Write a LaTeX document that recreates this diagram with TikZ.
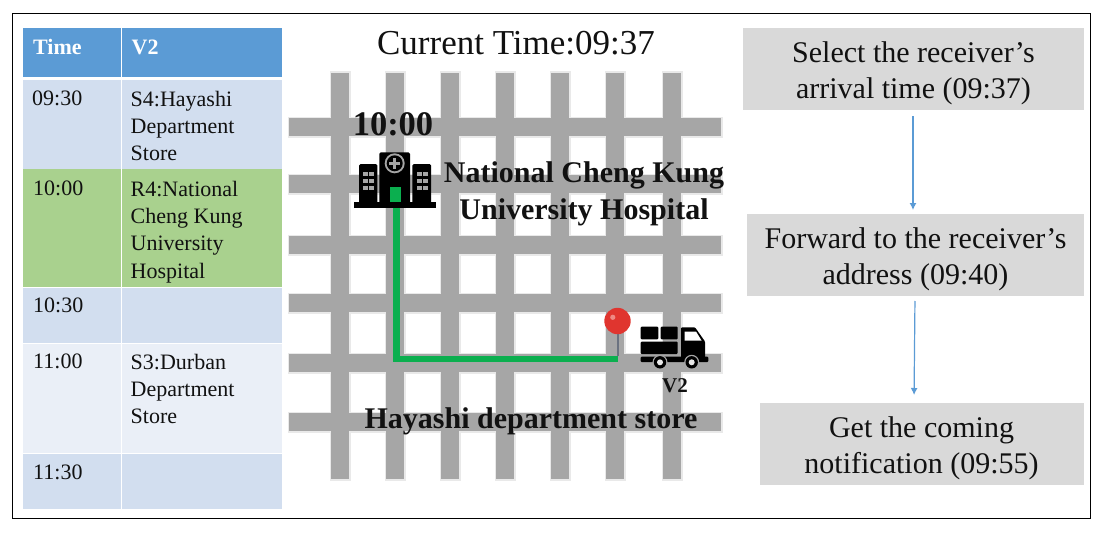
\documentclass[tikz,border=0pt]{standalone}
\usepackage{fontspec}
\setmainfont{Liberation Serif}
\usetikzlibrary{arrows.meta}
\definecolor{hdr}{HTML}{5B9BD5}
\definecolor{rowa}{HTML}{D2DEEF}
\definecolor{rowb}{HTML}{EAEFF7}
\definecolor{rowg}{HTML}{A9D18E}
\definecolor{road}{HTML}{A6A6A6}
\definecolor{halo}{HTML}{E9E9E9}
\definecolor{route}{HTML}{0BAF4F}
\definecolor{stepfill}{HTML}{D9D9D9}
\definecolor{pinred}{HTML}{E0352F}
\definecolor{pinhi}{HTML}{EE8A85}
\definecolor{stem}{HTML}{6B7280}
\definecolor{flow}{HTML}{5B9BD5}
\definecolor{ink}{HTML}{111111}
\tikzset{
  cell/.style={anchor=north west,inner sep=0pt,outer sep=0pt,draw=none},
  celltxt/.style={anchor=north west,inner sep=0pt,align=left,text=ink,font=\fontsize{22}{27.2}\selectfont},
  headtxt/.style={anchor=west,inner sep=0pt,text=white,font=\fontsize{22}{27}\selectfont\bfseries},
  stepbox/.style={fill=stepfill,inner sep=0pt,outer sep=0pt},
  steptxt/.style={inner sep=0pt,align=center,text=ink,font=\fontsize{30}{36}\selectfont},
  maplabel/.style={inner sep=0pt,text=ink,align=center,font=\fontsize{30}{37}\selectfont\bfseries},
  flowarrow/.style={draw=flow,line width=1.2pt,-{Latex[length=7pt,width=7pt]}},
}
\begin{document}
\begin{tikzpicture}[x=1pt,y=-1pt]
\useasboundingbox (0,0) rectangle (1109,535);
\fill[white] (0,0) rectangle (1109,535);
% table
\node[cell,fill=hdr,minimum width=97.5pt,minimum height=49pt] (c00) at (23,28) {};
\node[cell,fill=hdr,minimum width=160pt,minimum height=49pt] (c01) at (122,28) {};
\node[cell,fill=rowa,minimum width=97.5pt,minimum height=88pt] (c10) at (23,80.5) {};
\node[cell,fill=rowa,minimum width=160pt,minimum height=88pt] (c11) at (122,80.5) {};
\node[cell,fill=rowg,minimum width=97.5pt,minimum height=117.5pt] (c20) at (23,169) {};
\node[cell,fill=rowg,minimum width=160pt,minimum height=117.5pt] (c21) at (122,169) {};
\node[cell,fill=rowa,minimum width=97.5pt,minimum height=55pt] (c30) at (23,287.5) {};
\node[cell,fill=rowa,minimum width=160pt,minimum height=55pt] (c31) at (122,287.5) {};
\node[cell,fill=rowb,minimum width=97.5pt,minimum height=109pt] (c40) at (23,343.5) {};
\node[cell,fill=rowb,minimum width=160pt,minimum height=109pt] (c41) at (122,343.5) {};
\node[cell,fill=rowa,minimum width=97.5pt,minimum height=54.5pt] (c50) at (23,454) {};
\node[cell,fill=rowa,minimum width=160pt,minimum height=54.5pt] (c51) at (122,454) {};
\node[headtxt] (h0) at (33,47) {Time};
\node[headtxt] (h1) at (131.5,47) {V2};
\node[celltxt] (t10) at (32,91) {09:30};
\node[celltxt] (t11) at (130.5,91) {S4:Hayashi\\Department\\Store};
\node[celltxt] (t20) at (33,181) {10:00};
\node[celltxt] (t21) at (130.5,181) {R4:National\\Cheng Kung\\University\\Hospital};
\node[celltxt] (t30) at (33,298) {10:30};
\node[celltxt] (t40) at (33,354) {11:00};
\node[celltxt] (t41) at (130.5,354) {S3:Durban\\Department\\Store};
\node[celltxt] (t50) at (33,465) {11:30};
% road grid
\foreach \yy in {127,184,245,303,363,422} \fill[halo] (287.5,\yy-10.5) rectangle (722.5,\yy+10.5);
\foreach \xx in {340,395,450,505,560,615,672} \fill[halo] (\xx-10.5,71) rectangle (\xx+10.5,480.5);
\foreach \yy in {127,184,245,303,363,422} \fill[road] (289,\yy-9) rectangle (721,\yy+9);
\foreach \xx in {340,395,450,505,560,615,672} \fill[road] (\xx-9,73) rectangle (\xx+9,479);
% route
\draw[route,line width=6.5pt,line join=miter] (396.5,187) -- (396.5,359) -- (618,359);
% hospital
\fill[black] (354,202.3) rectangle (435.7,207.7);
\fill[black,rounded corners=1.5pt] (359,164) rectangle (377.3,204);
\fill[black,rounded corners=1.5pt] (412.3,164) rectangle (431,204);
\fill[black,rounded corners=1.5pt] (379.3,152.3) rectangle (410,204);
\fill[road] (394.7,163.3) circle[radius=10];
\fill[black] (394.7,163.3) circle[radius=8];
\fill[road] (393.2,157.8) rectangle (396.2,168.8);
\fill[road] (389.2,161.8) rectangle (400.2,164.8);
\fill[route] (390,187) rectangle (401,202.3);
\foreach \wy in {171.7,178.7,185.9} {
  \fill[road] (363.3,\wy) rectangle (367.5,\wy+4);
  \fill[road] (369.2,\wy) rectangle (373.6,\wy+4);
  \fill[road] (417.3,\wy) rectangle (421.7,\wy+4);
  \fill[road] (423.2,\wy) rectangle (427.7,\wy+4);
}
% pin
\draw[stem,line width=1.5pt] (617.8,334) -- (617.8,356);
\fill[pinred] (617.5,321) circle[radius=13.2];
\fill[pinhi] (612.8,317.3) circle[radius=2.6];
% truck
\fill[black,rounded corners=1pt] (640.7,326.7) rectangle (658.3,339.3);
\fill[black,rounded corners=1pt] (660.7,326.7) rectangle (677.7,339.3);
\fill[black,rounded corners=1pt] (640.7,341.7) rectangle (677.7,354);
\fill[black,rounded corners=1pt] (640.7,356.7) rectangle (708.3,362);
\fill[black,rounded corners=1pt] (681,327.3) -- (695,327.3) -- (705,341.5) -- (705,358) -- (681,358) -- cycle;
\fill[white] (684.5,331.5) -- (696,331.5) -- (701.5,340.5) -- (684.5,340.5) -- cycle;
\foreach \wx in {660,691.7} {
  \fill[road] (\wx,362.3) circle[radius=7.5];
  \fill[black] (\wx,362.3) circle[radius=6.2];
  \fill[white!75!road] (\wx,362.3) circle[radius=3];
}
% labels
\node[inner sep=0pt,text=ink,font=\fontsize{35}{40}\selectfont] (clock) at (516,43) {Current Time:09:37};
\node[maplabel,font=\fontsize{34.5}{40}\selectfont\bfseries] (eta) at (393,124) {10:00};
\node[maplabel] (hosp) at (584,194) {National Cheng Kung\\University Hospital};
\node[maplabel] (store) at (531,421) {Hayashi department store};
\node[maplabel,font=\fontsize{21}{25}\selectfont\bfseries] (veh) at (675,386) {V2};
% steps
\node[stepbox,minimum width=341pt,minimum height=82pt] (b1) at (913.5,69) {};
\node[stepbox,minimum width=337pt,minimum height=82pt] (b2) at (915.5,255) {};
\node[stepbox,minimum width=324pt,minimum height=82pt] (b3) at (921.5,444) {};
\node[steptxt] (s1) at (913.5,73) {Select the receiver’s\\arrival time (09:37)};
\node[steptxt] (s2) at (915.5,259) {Forward to the receiver’s\\address (09:40)};
\node[steptxt] (s3) at (921.5,448) {Get the coming\\notification (09:55)};
\draw[flowarrow,shorten <=6pt,shorten >=4pt] ([xshift=-0.5pt]b1.south) -- ([xshift=-2.5pt]b2.north);
\draw[flowarrow,shorten <=5pt,shorten >=8pt] ([xshift=-0.5pt]b2.south) -- ([xshift=-7.5pt]b3.north);
% frame
\draw[black,line width=1pt] (12.5,13.5) rectangle (1090.5,518.5);
\end{tikzpicture}
\end{document}
